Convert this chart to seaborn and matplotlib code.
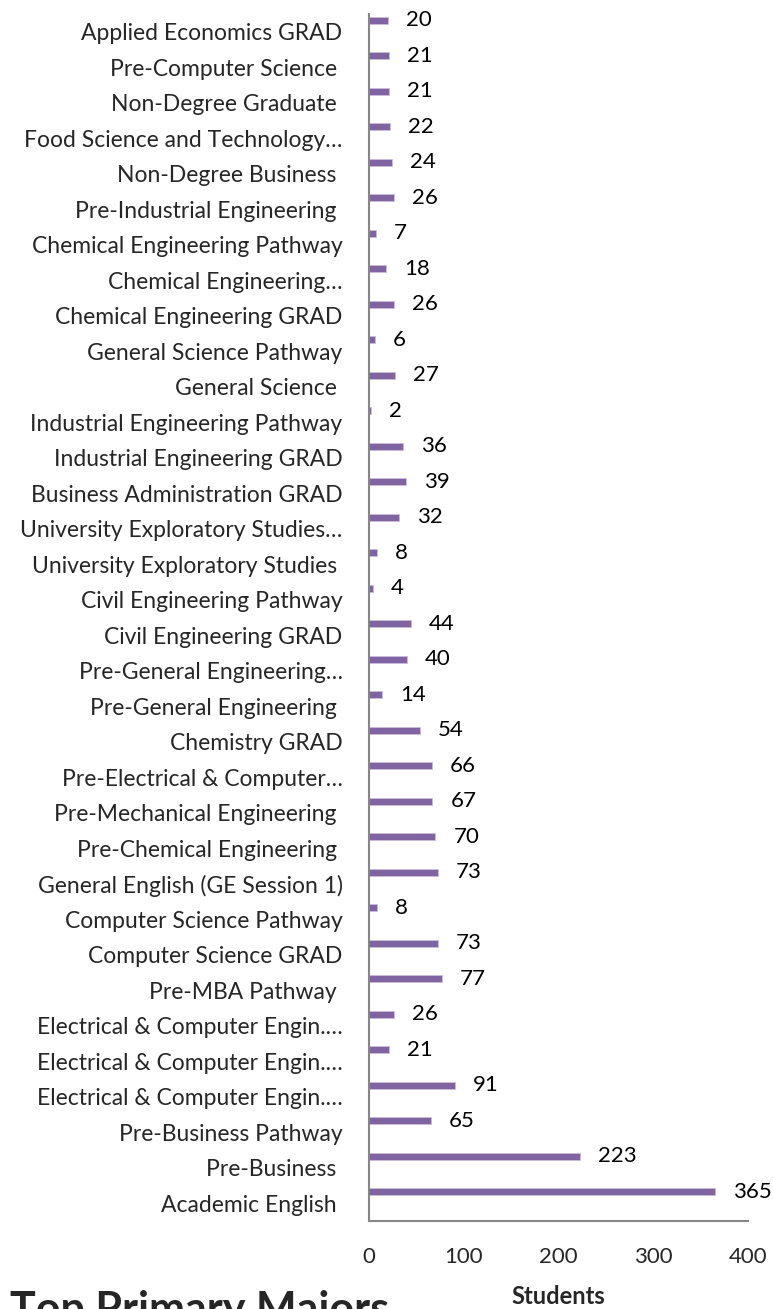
import matplotlib
matplotlib.use("Agg")
import matplotlib.pyplot as plt
import pandas as pd
import seaborn as sns

majors = ["Applied Economics GRAD", "Pre-Computer Science ", "Non-Degree Graduate ",
          "Food Science and Technology…", "Non-Degree Business ", "Pre-Industrial Engineering ",
          "Chemical Engineering Pathway", "Chemical Engineering…", "Chemical Engineering GRAD",
          "General Science Pathway", "General Science ", "Industrial Engineering Pathway",
          "Industrial Engineering GRAD", "Business Administration GRAD",
          "University Exploratory Studies…", "University Exploratory Studies ",
          "Civil Engineering Pathway", "Civil Engineering GRAD", "Pre-General Engineering…",
          "Pre-General Engineering ", "Chemistry GRAD", "Pre-Electrical & Computer…",
          "Pre-Mechanical Engineering ", "Pre-Chemical Engineering ",
          "General English (GE Session 1)", "Computer Science Pathway", "Computer Science GRAD",
          "Pre-MBA Pathway ", "Electrical & Computer Engin.…", "Electrical & Computer Engin.…",
          "Electrical & Computer Engin.…", "Pre-Business Pathway", "Pre-Business ",
          "Academic English "]
students = [20, 21, 21, 22, 24, 26, 7, 18, 26, 6, 27, 2, 36, 39, 32, 8, 4, 44, 40, 14,
            54, 66, 67, 70, 73, 8, 73, 77, 26, 21, 91, 65, 223, 365]
x_ticks = [0, 100, 200, 300, 400]

df = pd.DataFrame({"row": [str(i) for i in range(len(majors))], "Students": students})

sns.set_style("white")
plt.rcParams["font.family"] = ["Lato", "DejaVu Sans"]

W, H = 773, 1309
fig = plt.figure(figsize=(W / 100, H / 100), dpi=100)
ax = fig.add_axes([369 / W, (H - 1221) / H, (748 - 369) / W, (1221 - 14) / H])

sns.barplot(data=df, x="Students", y="row", orient="h", color="#8064A2",
            width=0.2, saturation=1, ax=ax)

# bars sit in the upper part of each slot, like the original
for p in ax.patches:
    p.set_y(p.get_y() - 0.32)
    p.set_edgecolor("#c9bcdc")
    p.set_linewidth(0.6)

ax.bar_label(ax.containers[0], labels=[str(v) for v in students], padding=13,
             fontsize=16, color="black")

ax.set_xlim(0, 400)
ax.set_ylim(len(majors) - 0.5, -0.5)
ax.set_xticks(x_ticks)
ax.set_xticklabels([str(t) for t in x_ticks], fontsize=16)
ax.set_yticks(range(len(majors)))
ax.set_yticklabels(majors, fontsize=16.5)
ax.tick_params(axis="x", length=0, pad=19)
ax.tick_params(axis="y", length=0, pad=19)
ax.set_ylabel("")
ax.set_xlabel("Students", fontsize=17, fontweight="bold")
ax.xaxis.set_label_coords(0.5, (1221 - 1296) / (1221 - 14))
ax.xaxis.label.set_va("center")

for s in ["top", "right"]:
    ax.spines[s].set_visible(False)
for s in ["left", "bottom"]:
    ax.spines[s].set_color("#868686")
    ax.spines[s].set_linewidth(1.5)

fig.text(10 / W, 1 - 1290 / H, "Top Primary Majors", fontsize=31,
         fontweight="bold", va="top", ha="left")

fig.savefig("out.png", dpi=100)
